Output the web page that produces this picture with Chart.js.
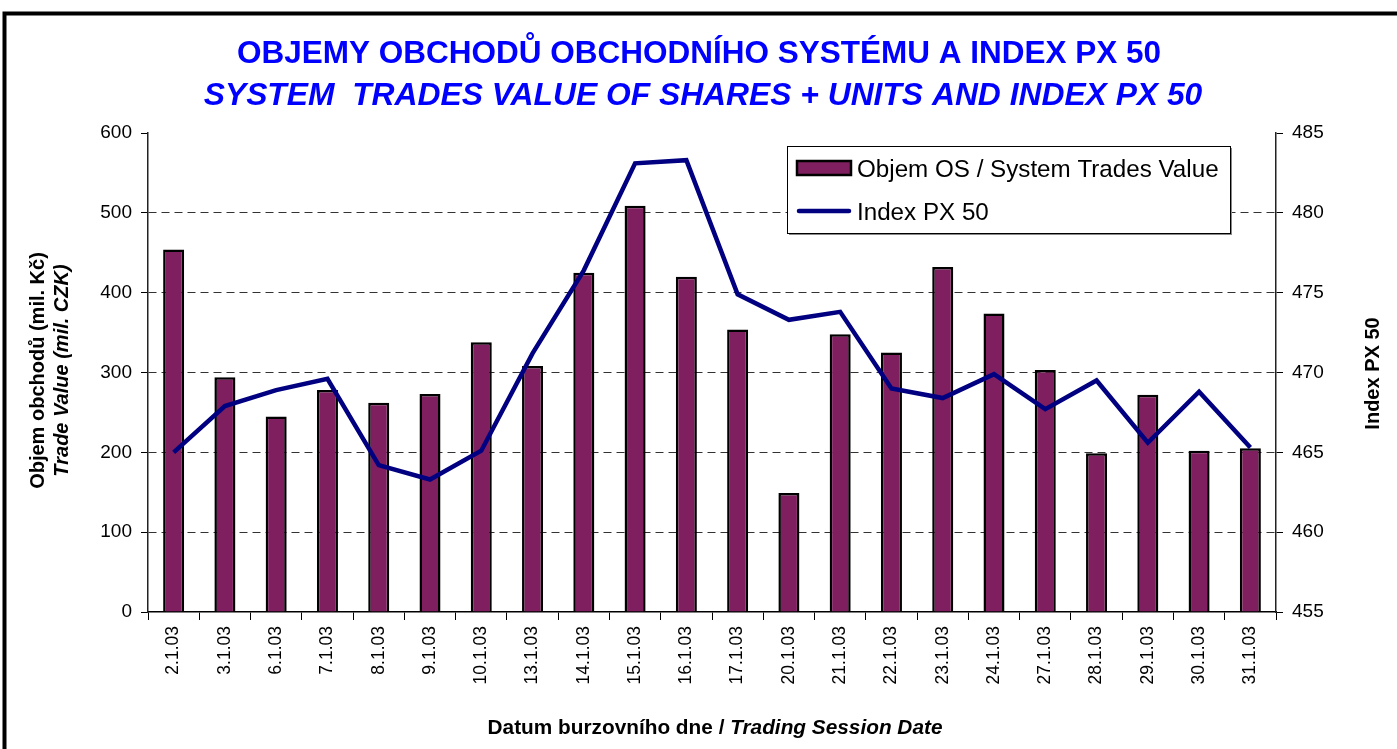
<!DOCTYPE html>
<html>
<head>
<meta charset="utf-8">
<title>Objemy obchodu a index PX 50</title>
<script src="https://cdn.jsdelivr.net/npm/chart.js@4/dist/chart.umd.min.js"></script>
<style>
  html, body { margin: 0; padding: 0; background: #fff; }
  #wrap { width: 1397px; height: 749px; position: relative; }
</style>
</head>
<body>
<div id="wrap"><canvas id="chart"></canvas></div>
<script>
const dates = ['2.1.03','3.1.03','6.1.03','7.1.03','8.1.03','9.1.03','10.1.03','13.1.03','14.1.03','15.1.03','16.1.03',
  '17.1.03','20.1.03','21.1.03','22.1.03','23.1.03','24.1.03','27.1.03','28.1.03','29.1.03','30.1.03','31.1.03'];
// objem OS v mil. Kc
const tradeValue = [454, 294, 245, 278, 262, 273, 338, 308, 425, 509, 420, 354, 149, 348, 325, 432, 374, 303, 199, 272, 202, 205];
// index PX 50
const px50 = [465.0, 467.9, 468.9, 469.6, 464.2, 463.3, 465.1, 471.2, 476.4, 483.1, 483.3, 474.9, 473.3, 473.8, 469.0, 468.4, 469.9, 467.7, 469.5, 465.6, 468.8, 465.3];
const leftTicks = [0, 100, 200, 300, 400, 500, 600];
const rightTicks = [455, 460, 465, 470, 475, 480, 485];

const titleCz = 'OBJEMY OBCHODŮ OBCHODNÍHO SYSTÉMU A INDEX PX 50';
const titleEn = 'SYSTEM  TRADES VALUE OF SHARES + UNITS AND INDEX PX 50';
const barName = 'Objem OS / System Trades Value';
const lineName = 'Index PX 50';

const FONT = '"Liberation Sans", Arial, sans-serif';
const plum = '#7f1f5f';
const navy = '#000080';

// draws text made of several differently styled pieces, centered on x
function drawPieces(ctx, pieces, x, y) {
  let total = 0;
  pieces.forEach(p => { ctx.font = p.font; total += ctx.measureText(p.text).width; });
  let cx = x - total / 2;
  ctx.textAlign = 'left';
  pieces.forEach(p => {
    ctx.font = p.font;
    ctx.fillText(p.text, cx, y);
    cx += ctx.measureText(p.text).width;
  });
}

const decorPlugin = {
  id: 'decor',
  beforeDraw(chart) {
    const ctx = chart.ctx;
    ctx.save();
    ctx.fillStyle = '#fff';
    ctx.fillRect(0, 0, chart.width, chart.height);
    ctx.restore();
  },
  afterDraw(chart) {
    const ctx = chart.ctx;
    const area = chart.chartArea;
    ctx.save();

    // outer frame
    ctx.strokeStyle = '#000';
    ctx.lineWidth = 4;
    ctx.strokeRect(4.5, 13.5, 1600, 1000);

    // titles
    ctx.fillStyle = '#0000ff';
    ctx.textBaseline = 'alphabetic';
    ctx.textAlign = 'center';
    ctx.font = 'bold 31.5px ' + FONT;
    ctx.fillText(titleCz, 699, 63);
    ctx.font = 'italic bold 31.8px ' + FONT;
    ctx.fillText(titleEn, 703, 105);

    // left axis title
    ctx.fillStyle = '#000';
    const midY = (area.top + area.bottom) / 2 - 2;
    ctx.save();
    ctx.translate(44, midY);
    ctx.rotate(-Math.PI / 2);
    drawPieces(ctx, [{ text: 'Objem obchodů (mil. Kč)', font: 'bold 20px ' + FONT }], 0, 0);
    ctx.restore();
    ctx.save();
    ctx.translate(68, midY);
    ctx.rotate(-Math.PI / 2);
    drawPieces(ctx, [{ text: 'Trade Value (mil. CZK)', font: 'italic bold 20px ' + FONT }], 0, 0);
    ctx.restore();

    // right axis title
    ctx.save();
    ctx.translate(1379, midY + 3);
    ctx.rotate(-Math.PI / 2);
    drawPieces(ctx, [{ text: 'Index PX 50', font: 'bold 20px ' + FONT }], 0, 0);
    ctx.restore();

    // x axis title
    drawPieces(ctx, [
      { text: 'Datum burzovního dne / ', font: 'bold 20.8px ' + FONT },
      { text: 'Trading Session Date', font: 'italic bold 20.8px ' + FONT }
    ], 715, 734);

    // legend box
    const lx = 787, ly = 146, lw = 443, lh = 87;
    ctx.fillStyle = '#888';
    ctx.fillRect(lx + 2, ly + 2, lw, lh);
    ctx.fillStyle = '#fff';
    ctx.fillRect(lx, ly, lw, lh);
    ctx.strokeStyle = '#000';
    ctx.lineWidth = 1;
    ctx.strokeRect(lx + 0.5, ly + 0.5, lw, lh);

    ctx.fillStyle = plum;
    ctx.fillRect(797, 161, 54, 14);
    ctx.lineWidth = 2.5;
    ctx.strokeRect(797, 161, 54, 14);

    ctx.strokeStyle = navy;
    ctx.lineWidth = 4.5;
    ctx.lineCap = 'round';
    ctx.beginPath();
    ctx.moveTo(799, 211);
    ctx.lineTo(849, 211);
    ctx.stroke();

    ctx.fillStyle = '#000';
    ctx.font = '24.2px ' + FONT;
    ctx.textAlign = 'left';
    ctx.fillText(barName, 857, 177);
    ctx.fillText(lineName, 857, 220);

    ctx.restore();
  }
};

const ctx = document.getElementById('chart');
chart = new Chart(ctx, {
  data: {
    labels: dates,
    datasets: [
      {
        type: 'line',
        label: lineName,
        data: px50,
        yAxisID: 'y2',
        borderColor: navy,
        borderWidth: 4.5,
        pointRadius: 0,
        tension: 0,
        borderJoinStyle: 'miter',
        order: 0
      },
      {
        type: 'bar',
        label: barName,
        data: tradeValue,
        yAxisID: 'y',
        backgroundColor: plum,
        borderColor: '#000',
        borderWidth: 2.5,
        barPercentage: 0.41,
        categoryPercentage: 1,
        order: 1
      }
    ]
  },
  options: {
    responsive: true,
    maintainAspectRatio: false,
    animation: false,
    layout: { padding: { top: 133, left: 0, right: 0, bottom: 0 } },
    plugins: {
      legend: { display: false },
      title: { display: false },
      tooltip: { enabled: false }
    },
    scales: {
      x: {
        offset: true,
        grid: { offset: true, drawOnChartArea: false, tickLength: 8, color: '#000', tickWidth: 1 },
        border: { color: '#000', width: 1.5 },
        ticks: {
          autoSkip: false,
          minRotation: 90,
          maxRotation: 90,
          padding: 6,
          color: '#000',
          font: { family: FONT, size: 17.5 }
        },
        afterFit(scale) { scale.height = 137; }
      },
      y: {
        position: 'left',
        min: leftTicks[0],
        max: leftTicks[leftTicks.length - 1],
        afterBuildTicks(scale) { scale.ticks = leftTicks.map(v => ({ value: v })); },
        grid: {
          color: c => (c.tick && (c.tick.value === 0 || c.tick.value === 600)) ? 'rgba(0,0,0,0)' : '#333',
          tickColor: '#000',
          tickLength: 7,
          tickBorderDash: []
        },
        border: { color: '#222', width: 1.5, dash: [8, 5] },
        ticks: { padding: 9, color: '#000', font: { family: FONT, size: 19 } },
        afterFit(scale) { scale.width = 148; }
      },
      y2: {
        position: 'right',
        min: rightTicks[0],
        max: rightTicks[rightTicks.length - 1],
        afterBuildTicks(scale) { scale.ticks = rightTicks.map(v => ({ value: v })); },
        grid: { drawOnChartArea: false, color: '#000', tickLength: 7 },
        border: { color: '#222', width: 1.5 },
        ticks: { padding: 9, color: '#000', font: { family: FONT, size: 19 } },
        afterFit(scale) { scale.width = 121; }
      }
    }
  },
  plugins: [decorPlugin]
});
</script>
</body>
</html>
